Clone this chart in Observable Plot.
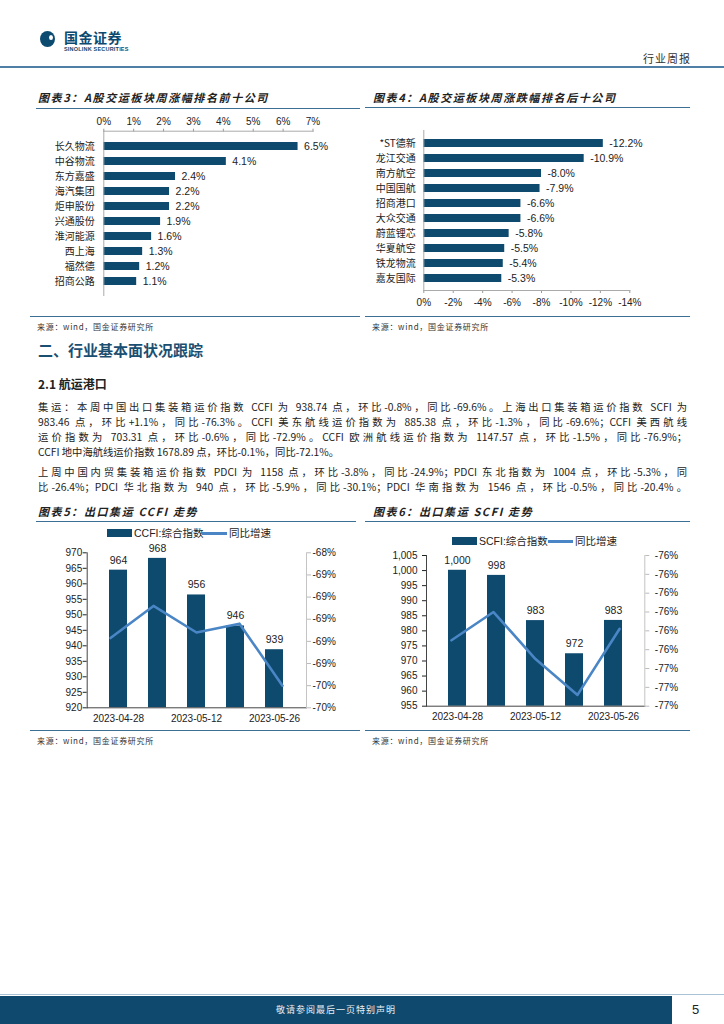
<!DOCTYPE html>
<html><head><meta charset="utf-8">
<script src="https://cdn.jsdelivr.net/npm/d3@7"></script>
<script src="https://cdn.jsdelivr.net/npm/@observablehq/plot@0.6"></script>
<style>
html,body{margin:0;padding:0}
body{width:724px;height:1024px;position:relative;background:#fff;font-family:"Noto Sans CJK SC","Liberation Sans",sans-serif;overflow:hidden;color:#222}
.a{position:absolute;white-space:nowrap}
.title{font-size:11px;line-height:14px;font-weight:bold;font-style:italic;letter-spacing:1.6px;color:#222}
.rule{position:absolute;height:0;border-top:1.5px solid #3d6e93}
.src{font-size:8px;line-height:10px;color:#333;letter-spacing:0.7px}
.para{position:absolute;left:38px;width:649px;font-size:10.3px;color:#222}
.para div{text-align:justify;text-align-last:justify;height:15.3px;line-height:15.3px;white-space:nowrap}
.para div.last{text-align-last:left}
.leg{font-size:10.5px;line-height:12px;font-family:"Liberation Sans","Noto Sans CJK SC",sans-serif;color:#222}
</style></head><body>

<!-- header -->
<div class="a" style="left:40px;top:31px;width:15px;height:16px;border-radius:50%;background:#0d4a70"></div>
<div class="a" style="left:49px;top:35px;width:4px;height:5px;border-radius:50%;background:#fff"></div>
<div class="a" style="left:64px;top:30px;font-size:14px;line-height:15px;font-weight:bold;color:#0d4a70;letter-spacing:0.5px">国金证券</div>
<div class="a" style="left:64px;top:46px;font-size:5.5px;line-height:6px;font-weight:bold;color:#0d4a70;letter-spacing:0.2px;font-family:'Liberation Sans',sans-serif">SINOLINK SECURITIES</div>
<div class="a" style="left:643px;top:51px;font-size:11px;line-height:14px;color:#333;letter-spacing:1px">行业周报</div>
<div class="a" style="left:0;top:66px;width:724px;height:2px;background:#4f7fa5"></div>

<!-- chart 3/4 titles -->
<div class="a title" style="left:38px;top:90px">图表3：A股交运板块周涨幅排名前十公司</div>
<div class="rule" style="left:36px;top:107.5px;width:324px"></div>
<div class="a title" style="left:373px;top:90px">图表4：A股交运板块周涨跌幅排名后十公司</div>
<div class="rule" style="left:365px;top:107px;width:325px"></div>

<div class="rule" style="left:30px;top:315.5px;width:330px"></div>
<div class="a src" style="left:37px;top:322px">来源：wind，国金证券研究所</div>
<div class="rule" style="left:365px;top:315.5px;width:325px"></div>
<div class="a src" style="left:372px;top:322px">来源：wind，国金证券研究所</div>

<!-- section text -->
<div class="a" style="left:38px;top:340px;font-size:15px;line-height:20px;font-weight:bold;color:#1b4f72">二、行业基本面状况跟踪</div>
<div class="a" style="left:38px;top:376px;font-size:12px;line-height:16px;font-weight:bold;color:#222">2.1 航运港口</div>
<div class="para" style="top:398.5px">
<div>集运：本周中国出口集装箱运价指数 CCFI 为 938.74 点，环比-0.8%，同比-69.6%。上海出口集装箱运价指数 SCFI 为</div>
<div>983.46 点，环比+1.1%，同比-76.3%。CCFI 美东航线运价指数为 885.38 点，环比-1.3%，同比-69.6%；CCFI 美西航线</div>
<div>运价指数为 703.31 点，环比-0.6%，同比-72.9%。CCFI 欧洲航线运价指数为 1147.57 点，环比-1.5%，同比-76.9%；</div>
<div class="last">CCFI 地中海航线运价指数 1678.89 点，环比-0.1%，同比-72.1%。</div>
</div>
<div class="para" style="top:464px">
<div>上周中国内贸集装箱运价指数 PDCI 为 1158 点，环比-3.8%，同比-24.9%；PDCI 东北指数为 1004 点，环比-5.3%，同</div>
<div>比-26.4%；PDCI 华北指数为 940 点，环比-5.9%，同比-30.1%；PDCI 华南指数为 1546 点，环比-0.5%，同比-20.4%。</div>
</div>

<!-- chart 5/6 titles -->
<div class="a title" style="left:38px;top:504px">图表5：出口集运 CCFI 走势</div>
<div class="rule" style="left:36px;top:520.5px;width:320px"></div>
<div class="a title" style="left:373px;top:504px">图表6：出口集运 SCFI 走势</div>
<div class="rule" style="left:365px;top:520.5px;width:325px"></div>

<!-- legends -->
<div class="a" style="left:107px;top:529px;width:25px;height:8px;background:#0d4a6e"></div>
<div class="a leg" style="left:134px;top:527px">CCFI:综合指数</div>
<div class="a" style="left:202px;top:531.5px;width:25px;height:3px;background:#4a86c6"></div>
<div class="a leg" style="left:229px;top:527px">同比增速</div>

<div class="a" style="left:452px;top:537px;width:25px;height:8px;background:#0d4a6e"></div>
<div class="a leg" style="left:479px;top:535px">SCFI:综合指数</div>
<div class="a" style="left:548px;top:539.5px;width:25px;height:3px;background:#4a86c6"></div>
<div class="a leg" style="left:575px;top:535px">同比增速</div>

<div class="rule" style="left:30px;top:729.5px;width:330px"></div>
<div class="a src" style="left:37px;top:736px">来源：wind，国金证券研究所</div>
<div class="rule" style="left:365px;top:729.5px;width:325px"></div>
<div class="a src" style="left:372px;top:736px">来源：wind，国金证券研究所</div>

<!-- footer -->
<div class="a" style="left:0;top:994px;width:724px;height:1px;background:#a9c3d6"></div>
<div class="a" style="left:0;top:996px;width:672px;height:28px;background:#0f4a6e"></div>
<div class="a" style="left:0;top:1003px;width:672px;text-align:center;font-size:9px;line-height:14px;color:#e8eef3;letter-spacing:1px">敬请参阅最后一页特别声明</div>
<div class="a" style="left:692px;top:1002px;font-size:13px;line-height:16px;color:#222;font-family:'Liberation Sans',sans-serif">5</div>

<script>
// ---- data ----
const top10Names = ["长久物流","中谷物流","东方嘉盛","海汽集团","炬申股份","兴通股份","淮河能源","西上海","福然德","招商公路"];
const top10Values = [6.5, 4.1, 2.4, 2.2, 2.2, 1.9, 1.6, 1.3, 1.2, 1.1];
const top10Ticks = [0, 1, 2, 3, 4, 5, 6, 7];

const bottom10Names = ["*ST德新","龙江交通","南方航空","中国国航","招商港口","大众交通","蔚蓝锂芯","华夏航空","铁龙物流","嘉友国际"];
const bottom10Values = [-12.2, -10.9, -8.0, -7.9, -6.6, -6.6, -5.8, -5.5, -5.4, -5.3];
const bottom10Ticks = [0, -2, -4, -6, -8, -10, -12, -14];

const dates = ["2023-04-28","2023-05-05","2023-05-12","2023-05-19","2023-05-26"];
const dateLabels = ["2023-04-28","2023-05-12","2023-05-26"];

const ccfiIndex = [964.4, 968.2, 956.4, 946.4, 938.74];
const ccfiYoY = [-69.17, -68.88, -69.12, -69.04, -69.6];
const ccfiTicks = [920, 925, 930, 935, 940, 945, 950, 955, 960, 965, 970];
const ccfiYoYTicks = [-68.4, -68.6, -68.8, -69.0, -69.2, -69.4, -69.6, -69.8];

const scfiIndex = [1000.1, 998.4, 983.4, 972.4, 983.46];
const scfiYoY = [-76.35, -76.2, -76.45, -76.64, -76.29];
const scfiTicks = [955, 960, 965, 970, 975, 980, 985, 990, 995, 1000, 1005];
const scfiYoYTicks = [-75.9, -76.0, -76.1, -76.2, -76.3, -76.4, -76.5, -76.6, -76.7];

// ---- styles ----
const BAR = "#0d4a6e";
const LINE = "#4a86c6";
const FONT = '"Liberation Sans","Noto Sans CJK SC",sans-serif';
const baseStyle = {fontFamily: FONT, fontSize: "10px", color: "#222", background: "transparent", overflow: "visible"};

function mount(svg, left, top) {
  svg.style.position = "absolute";
  svg.style.left = left + "px";
  svg.style.top = top + "px";
  svg.style.maxWidth = "none";
  document.body.appendChild(svg);
}

// ---- chart 3 ----
const t3 = top10Names.map((n, i) => ({name: n, value: top10Values[i]}));
mount(Plot.plot({
  width: 330, height: 195,
  marginLeft: 73.3, marginRight: 47.5, marginTop: 20.7, marginBottom: 10,
  style: baseStyle,
  x: {domain: [0, 7]},
  y: {domain: top10Names, padding: 0.5},
  marks: [
    Plot.barX(t3, {x: "value", y: "name", fill: BAR}),
    Plot.text(t3, {x: "value", y: "name", text: d => d.value.toFixed(1) + "%", textAnchor: "start", dx: 6, fontSize: 10.5}),
    Plot.axisX({anchor: "top", ticks: top10Ticks, tickFormat: d => d + "%", tickSize: 3, tickPadding: 3, label: null, stroke: "#999"}),
    Plot.axisY({anchor: "left", tickSize: 0, tickPadding: 9, label: null, fontFamily: '"Noto Sans CJK SC",sans-serif', fontSize: 10}),
    Plot.frame({anchor: "top", stroke: "#aaa"}),
    Plot.frame({anchor: "left", stroke: "#aaa"})
  ]
}), 30, 110);

// ---- chart 4 ----
const t4 = bottom10Names.map((n, i) => ({name: n, value: bottom10Values[i]}));
mount(Plot.plot({
  width: 330, height: 200,
  marginLeft: 58.3, marginRight: 65.7, marginTop: 20, marginBottom: 20,
  style: baseStyle,
  x: {domain: [0, -14]},
  y: {domain: bottom10Names, padding: 0.5},
  marks: [
    Plot.barX(t4, {x: "value", y: "name", fill: BAR}),
    Plot.text(t4, {x: "value", y: "name", text: d => d.value.toFixed(1) + "%", textAnchor: "start", dx: 6, fontSize: 10.5}),
    Plot.axisX({anchor: "bottom", ticks: bottom10Ticks, tickFormat: d => d + "%", tickSize: 3, tickPadding: 5, label: null, stroke: "#999"}),
    Plot.axisY({anchor: "left", tickSize: 0, tickPadding: 8, label: null, fontFamily: '"Noto Sans CJK SC",sans-serif', fontSize: 10}),
    Plot.frame({anchor: "bottom", stroke: "#aaa"}),
    Plot.frame({anchor: "left", stroke: "#aaa"})
  ]
}), 365, 110);

// ---- combo charts ----
function combo(opts) {
  const data = dates.map((d, i) => ({date: d, v: opts.index[i], y: opts.yoy[i]}));
  const common = {
    width: opts.width, height: opts.height,
    marginLeft: opts.ml, marginRight: opts.mr, marginTop: opts.mt, marginBottom: opts.mb,
    style: baseStyle,
  };
  const bars = Plot.plot({
    ...common,
    x: {domain: dates, padding: 0.54},
    y: {domain: [opts.ticks[0], opts.ticks[opts.ticks.length - 1]]},
    marks: [
      Plot.barY(data, {x: "date", y: "v", fill: BAR, clip: true}),
      Plot.text(data, {x: "date", y: "v", text: d => d3.format(",.0f")(d.v), dy: -10, fontSize: 10.5}),
      Plot.axisY({anchor: "left", ticks: opts.ticks, tickFormat: d3.format(","), tickSize: 4, tickPadding: opts.lpad, label: null}),
      Plot.axisX({anchor: "bottom", ticks: dateLabels, tickSize: 0, tickPadding: 7, label: null}),
      Plot.frame({anchor: "left", stroke: "#444"}),
      Plot.frame({anchor: "bottom", stroke: "#444"}),
      Plot.frame({anchor: "right", stroke: "#c4c4c4"})
    ]
  });
  const line = Plot.plot({
    ...common,
    x: {domain: dates, padding: 0.54, axis: null},
    y: {domain: [opts.yticks[opts.yticks.length - 1], opts.yticks[0]]},
    marks: [
      Plot.line(data, {x: "date", y: "y", stroke: LINE, strokeWidth: 2.6}),
      Plot.axisY({anchor: "right", ticks: opts.yticks, tickFormat: d => d.toFixed(0) + "%", tickSize: 4, tickPadding: opts.rpad, label: null, stroke: "#bbb"})
    ]
  });
  mount(bars, opts.left, opts.top);
  mount(line, opts.left, opts.top);
}

combo({index: ccfiIndex, yoy: ccfiYoY, ticks: ccfiTicks, yticks: ccfiYoYTicks,
  left: 30, top: 540, width: 320, height: 190, ml: 56.7, mr: 44, mt: 12.3, mb: 22.7, lpad: 1, rpad: 2});
combo({index: scfiIndex, yoy: scfiYoY, ticks: scfiTicks, yticks: scfiYoYTicks,
  left: 365, top: 540, width: 330, height: 190, ml: 61, mr: 50.7, mt: 15, mb: 24.3, lpad: 5, rpad: 6});
</script>
</body></html>
